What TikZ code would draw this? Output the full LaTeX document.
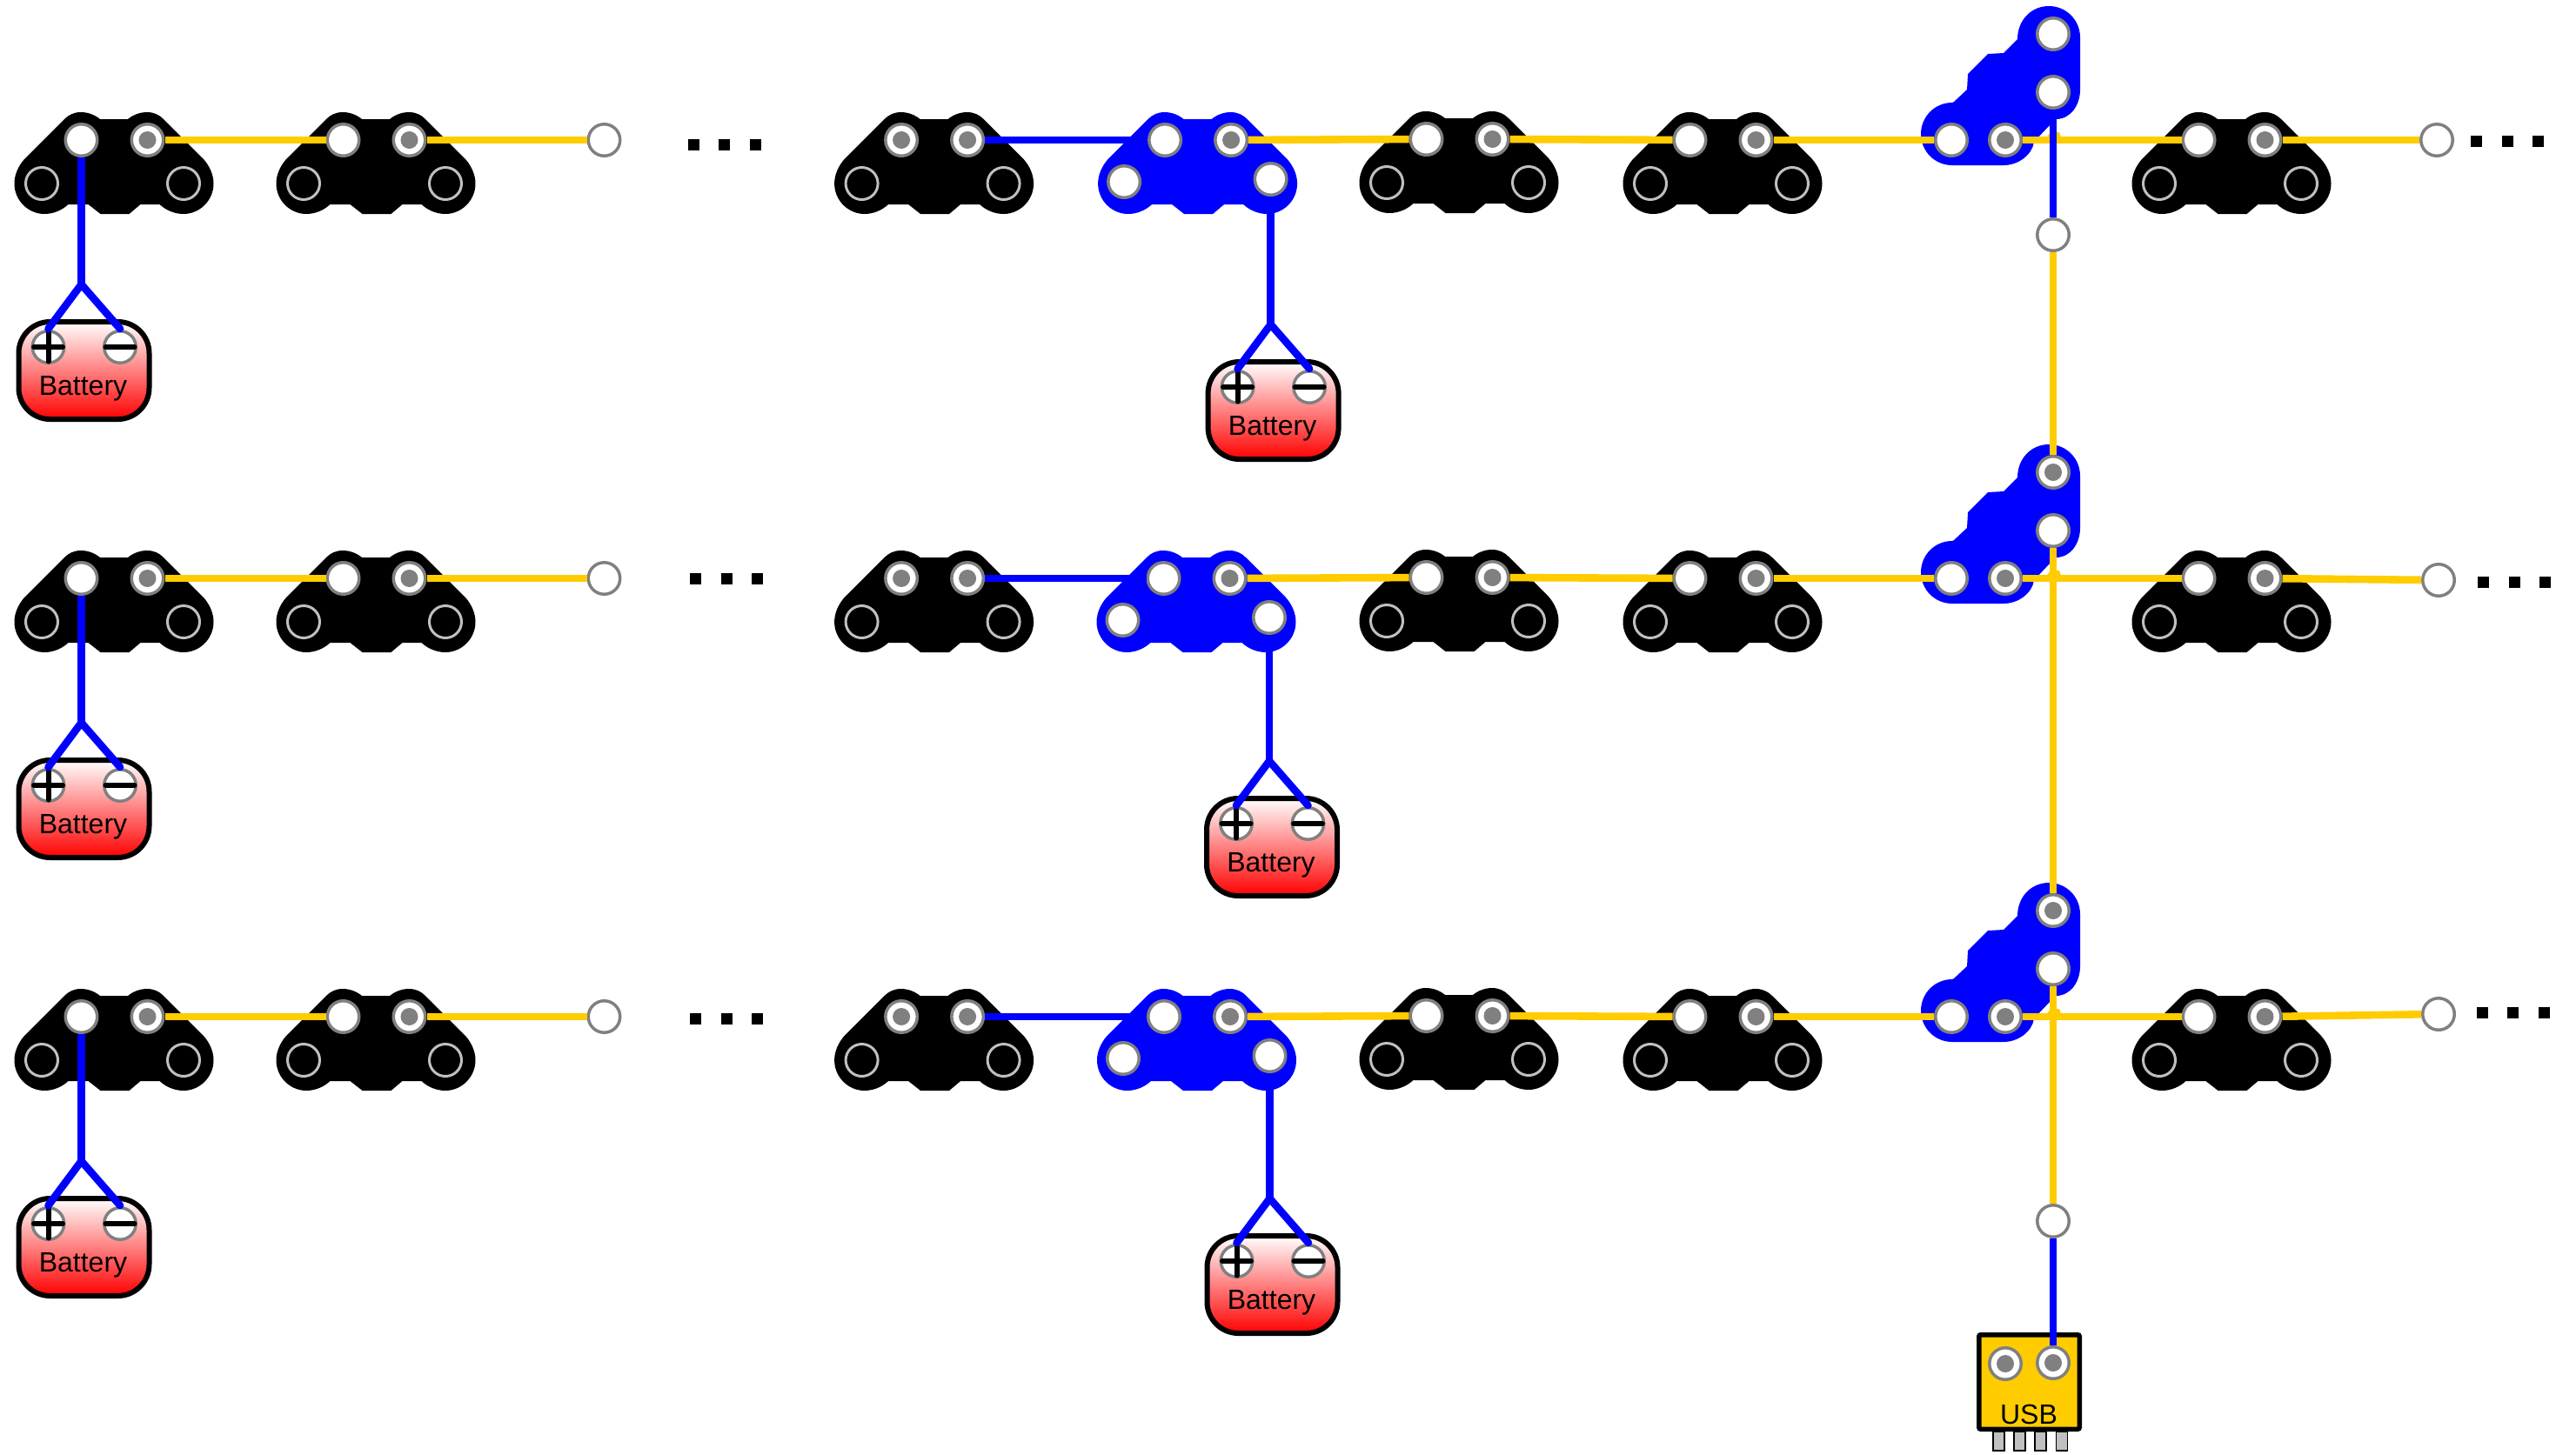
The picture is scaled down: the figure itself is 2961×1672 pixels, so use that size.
\documentclass[tikz,border=0pt]{standalone}
\usepackage{fontspec}
\setmainfont{Liberation Sans}
\definecolor{wireblue}{HTML}{0000FF}
\definecolor{wireyellow}{HTML}{FFCC00}
\definecolor{holegray}{HTML}{808080}
\definecolor{blindgray}{HTML}{C0C0C0}
\newcommand{\boardpath}{(16,-24) .. controls (22,-29) and (30,-32) .. (38,-32) .. controls (46,-32) and (52,-29) .. (57,-24) -- (103,22) .. controls (110,30) and (114.5,40) .. (114.5,50) .. controls (114.5,70) and (98,85) .. (80,85) .. controls (70,85) and (60,81) .. (52.5,74) -- (30.5,74) -- (17.5,85) -- (-15.5,85) -- (-29.5,74) -- (-52.5,74) .. controls (-60,81) and (-70,85) .. (-80,85) .. controls (-98,85) and (-114.5,70) .. (-114.5,50) .. controls (-114.5,40) and (-110,30) .. (-103,22) -- (-57,-24) .. controls (-52,-29) and (-46,-32) .. (-38,-32) .. controls (-30,-32) and (-22,-29) .. (-16,-24) -- cycle}
\tikzset{
  hole/.style={circle,draw=holegray,fill=white,line width=1.75pt,inner sep=0pt,minimum size=18.25pt},
  padhole/.style={hole,path picture={\fill[holegray] (path picture bounding box.center) circle (5pt);}},
  blind/.style={circle,draw=blindgray,line width=1.5pt,inner sep=0pt,minimum size=18.5pt},
  bluewire/.style={draw=wireblue,line width=4.3pt},
  yellowwire/.style={draw=wireyellow,line width=4.3pt},
  signline/.style={line width=3pt,line cap=round},
  dotsq/.style={fill=black,inner sep=0pt,minimum size=6.5pt},
  labeltext/.style={font=\fontsize{16}{18}\selectfont,inner sep=0pt},
  batbox/.style={draw=black,line width=3pt,rounded corners=18pt,top color=white,bottom color=red,minimum width=75pt,minimum height=56pt,inner sep=0pt},
  usbbox/.style={draw=black,fill=wireyellow,line width=2.75pt,rounded corners=1pt,minimum width=57.75pt,minimum height=54.25pt,inner sep=0pt},
  usbpin/.style={draw=black,fill=blindgray,line width=0.75pt,minimum width=6.5pt,minimum height=11pt,inner sep=0pt},
  blackboard/.pic={
    \fill[black] \boardpath;
    \node[hole] (-tl) at (-37.5,0) {};
    \node[padhole] (-tr) at (38.5,0) {};
    \node[blind] (-bl) at (-83,50) {};
    \node[blind] (-br) at (80,50) {};
  },
  starboard/.pic={
    \fill[black] \boardpath;
    \node[padhole] (-tl) at (-37.5,0) {};
    \node[padhole] (-tr) at (38.5,0) {};
    \node[blind] (-bl) at (-83,50) {};
    \node[blind] (-br) at (80,50) {};
  },
  blueboard/.pic={
    \fill[wireblue] \boardpath;
    \node[hole] (-tl) at (-37.5,0) {};
    \node[padhole] (-tr) at (38.5,0) {};
    \node[hole] (-bl) at (-84.5,48) {};
    \node[hole] (-br) at (84,45) {};
  },
  pics/corner/.style={code={
    \fill[wireblue] (-5,-154) .. controls (15,-154) and (31,-138) .. (31,-118) -- (31,-58) .. controls (31,-40) and (20,-24) .. (3,-24) -- (-5,-16) -- (-22,2) .. controls (-24,17) and (-40,29) .. (-57,29) -- (-116,29) .. controls (-136,29) and (-152,13) .. (-152,-7) .. controls (-152,-27) and (-136,-43) .. (-116,-43) -- (-114,-44) -- (-99,-58) -- (-98,-76) -- (-75,-99) -- (-57,-100) -- (-41,-116) .. controls (-41,-138) and (-25,-154) .. (-5,-154) -- cycle;
    \fill[wireyellow] (-9,-1) -- (-3,-9) -- (7,-9) -- (10,-1) -- cycle;
    \node[#1] (-top) at (0,-122) {};
    \node[hole] (-mid) at (0,-55) {};
    \node[hole] (-l) at (-117,0) {};
    \node[padhole] (-r) at (-55,0) {};
  }},
  battery/.pic={
    \coordinate (-j) at (0,0);
    \coordinate (-pe) at (-38,51);
    \coordinate (-me) at (44.5,51);
    \node[batbox] (-box) at (3,99) {};
    \node[hole] (-plus) at (-38,72) {};
    \node[hole] (-minus) at (44.5,72) {};
    \draw[signline] (-54.5,72) -- (-21.5,72);
    \draw[signline] (-38,55.5) -- (-38,88.5);
    \draw[signline] (28,72) -- (61,72);
    \node[labeltext] (-label) at (2,119.5) {Battery};
  },
}
\begin{document}
\begin{tikzpicture}[x=0.5pt,y=-0.5pt]
  \useasboundingbox (0,0) rectangle (2961,1672);
  % row name, y, left dots, right end circle, right dots, stem junctions, blue board, top hole of the corner
  \foreach \r/\y/\lx/\ly/\ex/\ey/\dx/\dy/\jy/\bx/\my/\t in {
    a/161/797/166/2801/161/2846.5/162.5/327/1376.6/373/hole,
    b/665/799.5/665.5/2803/667/2854.5/669.5/831/1375/875/padhole,
    c/1169/799.5/1171/2803/1166/2853/1164.5/1335/1375.5/1378/padhole} {
    \pic (\r1) at (131,\y) {blackboard};
    \pic (\r2) at (432,\y) {blackboard};
    \node[hole] (\r2e) at (694.5,\y) {};
    \pic (\r3) at (1073.6,\y) {starboard};
    \pic (\r4) at (\bx,\y) {blueboard};
    \pic (\r5) at (1677,\y-1) {blackboard};
    \pic (\r6) at (1980,\y) {blackboard};
    \pic (\r7) at (2360,\y) {corner=\t};
    \pic (\r8) at (2565,\y) {blackboard};
    \node[hole] (\r8e) at (\ex,\ey) {};
    \foreach \i in {0,1,2} {
      \node[dotsq] (\r l\i) at ({\lx+35.5*\i},\ly) {};
      \node[dotsq] (\r r\i) at ({\dx+35.5*\i},\dy) {};
    }
    \pic (\r1b) at (93.5,\jy) {battery};
    \pic (\r4b) at ({\bx+84},\my) {battery};
    % wires
    \draw[yellowwire] (\r1-tr) -- (\r2-tl);
    \draw[yellowwire] (\r2-tr) -- (\r2e);
    \draw[bluewire] (\r3-tr) -- (\r4-tl);
    \draw[yellowwire] (\r4-tr) -- (\r5-tl);
    \draw[yellowwire] (\r5-tr) -- (\r6-tl);
    \draw[yellowwire] (\r6-tr) -- (\r7-l);
    \draw[yellowwire] (\r7-r) -- (\r8-tl);
    \draw[yellowwire] (\r8-tr) -- (\r8e);
    \draw[bluewire] (\r1-tl) -- (\r1b-j);
    \draw[bluewire] (\r4-br) -- (\r4b-j);
    \draw[bluewire,line cap=round] (\r1b-pe) -- (\r1b-j) -- (\r1b-me);
    \draw[bluewire,line cap=round] (\r4b-pe) -- (\r4b-j) -- (\r4b-me);
  }
  % usb board
  \node[hole] (topend) at (2360,270) {};
  \node[hole] (lowend) at (2360,1404) {};
  \foreach \i/\px in {1/2297.5,2/2321.5,3/2345.5,4/2370} {
    \node[usbpin] (pin\i) at (\px,1657) {};
  }
  \node[usbbox] (usb) at (2332.5,1589) {};
  \node[padhole] (usbl) at (2305,1568) {};
  \node[padhole] (usbr) at (2360,1567) {};
  \node[labeltext] (usblabel) at (2332,1626) {USB};
  \draw[bluewire] (a7-mid) -- (topend);
  \draw[yellowwire] (topend) -- (b7-top);
  \draw[yellowwire] (b7-mid) -- (c7-top);
  \draw[yellowwire] (c7-mid) -- (lowend);
  \draw[bluewire] (lowend) -- (usbr);
\end{tikzpicture}
\end{document}
